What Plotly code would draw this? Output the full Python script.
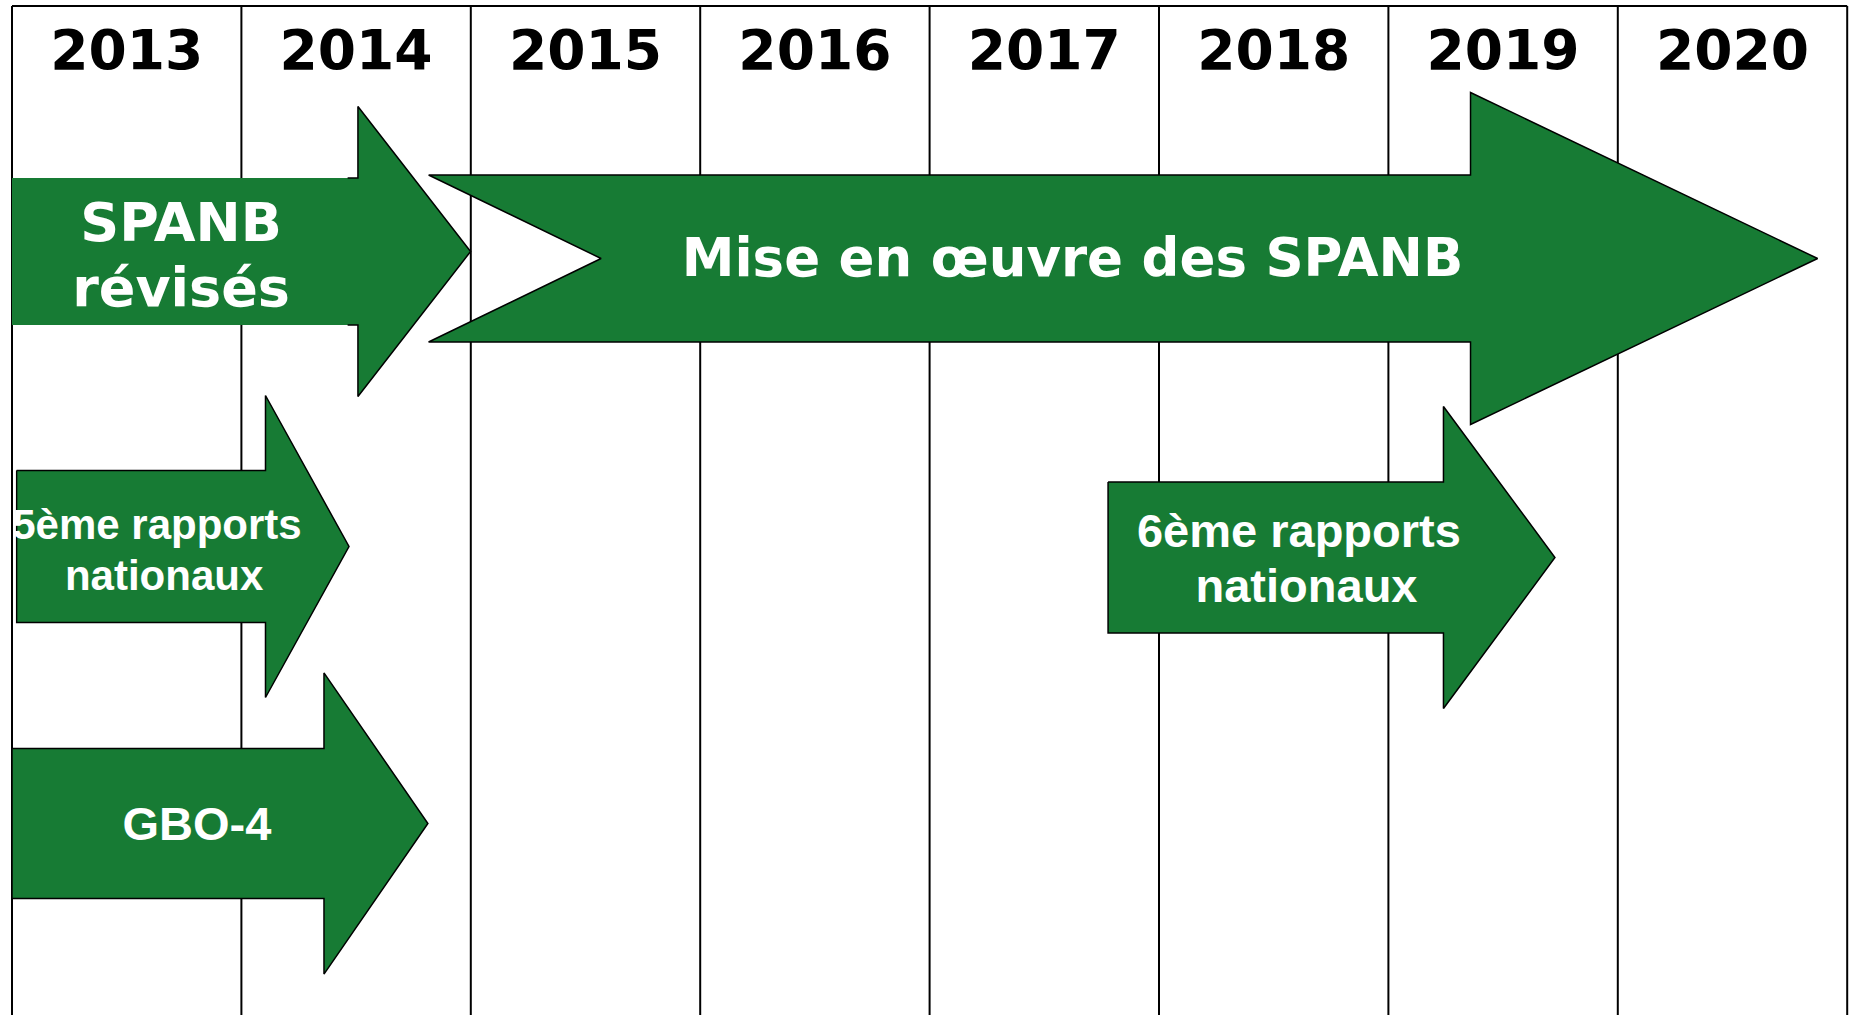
import plotly.graph_objects as go

W, H = 1854, 1015

# ---- data -------------------------------------------------------------
years = [2013, 2014, 2015, 2016, 2017, 2018, 2019, 2020]
year_boundaries = [2013, 2014, 2015, 2016, 2017, 2018, 2019, 2020, 2021]

# simple arrows (x in years, y in chart rows from top)
arrow_names = ["SPANB révisés", "5ème rapports nationaux", "GBO-4", "6ème rapports nationaux"]
arrow_start = [2013.0, 2013.02, 2013.0, 2017.778]
arrow_head_base = [2014.508, 2014.105, 2014.36, 2019.24]
arrow_tip = [2014.999, 2014.469, 2014.813, 2019.726]
arrow_center = [251.5, 546.5, 823.5, 557.5]
arrow_shaft_half = [73.5, 76.0, 75.0, 75.5]
arrow_head_half = [145.0, 151.0, 150.6, 151.0]
arrow_full_outline = [False, True, True, True]

# notched arrow "Mise en œuvre des SPANB"
mise_start = 2014.816
mise_notch = 2015.568
mise_head_base = 2019.358
mise_tip = 2020.871
mise_center = 258.5
mise_shaft_half = 83.5
mise_head_half = 166.0

# labels
label_texts = ["SPANB", "révisés", "Mise en œuvre des SPANB",
               "5ème rapports", "nationaux", "GBO-4",
               "6ème rapports", "nationaux"]
label_x = [2013.737, 2013.737, 2017.623, 2013.632, 2013.663, 2013.806, 2018.610, 2018.643]
label_y = [227, 292, 263, 528, 579, 828, 535, 590]
label_family = ["DejaVu Sans", "DejaVu Sans", "DejaVu Sans",
                "Liberation Sans", "Liberation Sans", "Liberation Sans",
                "Liberation Sans", "Liberation Sans"]
label_size = [54, 54, 53, 42, 42, 47, 47, 47]

year_label_row = 55

# ---- style ------------------------------------------------------------
GREEN = "#177b34"
col_left_px = 12
col_width_px = 229.4
x_range = [2013 - col_left_px / col_width_px, 2013 + (W - col_left_px) / col_width_px]
top_row = 6

fig = go.Figure()

# grid (vertical column lines + top border)
for b in year_boundaries:
    fig.add_shape(type="line", x0=b, x1=b, y0=top_row, y1=H + 5,
                  line=dict(color="black", width=2), layer="below")
fig.add_shape(type="line", x0=year_boundaries[0], x1=year_boundaries[-1], y0=top_row, y1=top_row,
              line=dict(color="black", width=2), layer="below")

# simple arrows
for i in range(len(arrow_names)):
    s, hb, t = arrow_start[i], arrow_head_base[i], arrow_tip[i]
    c, sh, hh = arrow_center[i], arrow_shaft_half[i], arrow_head_half[i]
    xs = [s, hb, hb, t, hb, hb, s, s]
    ys = [c - sh, c - sh, c - hh, c, c + hh, c + sh, c + sh, c - sh]
    if arrow_full_outline[i]:
        fig.add_trace(go.Scatter(x=xs, y=ys, mode="lines", fill="toself", fillcolor=GREEN,
                                 line=dict(color="black", width=1.5), hoverinfo="skip"))
    else:
        fig.add_trace(go.Scatter(x=xs, y=ys, mode="lines", fill="toself", fillcolor=GREEN,
                                 line=dict(color=GREEN, width=0), hoverinfo="skip"))
        fig.add_trace(go.Scatter(x=[hb - 0.045, hb, hb, t, hb, hb, hb - 0.045],
                                 y=[c - sh, c - sh, c - hh, c, c + hh, c + sh, c + sh],
                                 mode="lines", line=dict(color="black", width=1.5),
                                 hoverinfo="skip"))

# notched arrow
xs = [mise_start, mise_head_base, mise_head_base, mise_tip, mise_head_base, mise_head_base,
      mise_start, mise_notch, mise_start]
ys = [mise_center - mise_shaft_half, mise_center - mise_shaft_half, mise_center - mise_head_half,
      mise_center, mise_center + mise_head_half, mise_center + mise_shaft_half,
      mise_center + mise_shaft_half, mise_center, mise_center - mise_shaft_half]
fig.add_trace(go.Scatter(x=xs, y=ys, mode="lines", fill="toself", fillcolor=GREEN,
                         line=dict(color="black", width=1.5), hoverinfo="skip"))

# labels inside arrows
for i, txt in enumerate(label_texts):
    fig.add_trace(go.Scatter(x=[label_x[i]], y=[label_y[i]], mode="text", text=[txt],
                             textposition="middle center",
                             textfont=dict(family=label_family[i], size=label_size[i],
                                           color="white", weight="bold"),
                             hoverinfo="skip"))

# year headers
fig.add_trace(go.Scatter(x=[y + 0.5 for y in years], y=[year_label_row] * len(years),
                         mode="text", text=[str(y) for y in years],
                         textposition="middle center",
                         textfont=dict(family="DejaVu Sans", size=55, color="black", weight="bold"),
                         hoverinfo="skip"))

# clip the 5ème label at the shaft's left edge
clip_right = 2013 + (15.6 - col_left_px) / col_width_px
fig.add_shape(type="rect", x0=x_range[0], x1=clip_right,
              y0=arrow_center[1] - arrow_shaft_half[1] - 2, y1=arrow_center[1] + arrow_shaft_half[1] + 2,
              fillcolor="white", line=dict(width=0), layer="above")
fig.add_shape(type="line", x0=2013, x1=2013,
              y0=arrow_center[1] - arrow_shaft_half[1] - 3, y1=arrow_center[1] + arrow_shaft_half[1] + 3,
              line=dict(color="black", width=2), layer="above")

fig.update_layout(
    width=W, height=H,
    margin=dict(l=0, r=0, t=0, b=0),
    paper_bgcolor="white", plot_bgcolor="white",
    showlegend=False,
    xaxis=dict(range=x_range, visible=False, fixedrange=True),
    yaxis=dict(range=[H, 0], visible=False, fixedrange=True),
)

fig.write_html("out.html", config={"displayModeBar": False},
               post_script="document.body.style.margin='0';document.body.style.overflow='hidden';")
